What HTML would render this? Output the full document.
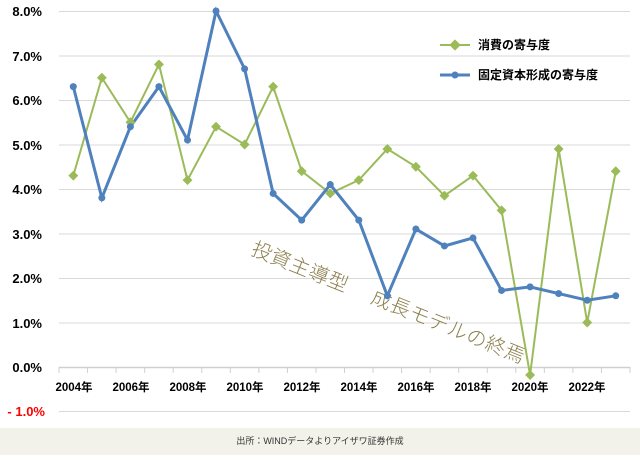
<!DOCTYPE html>
<html><head><meta charset="utf-8"><style>
body{margin:0;width:640px;height:455px;overflow:hidden;background:#fff;font-family:"Liberation Sans","Noto Sans CJK JP",sans-serif}
</style></head><body>
<svg width="640" height="455" xmlns="http://www.w3.org/2000/svg" font-family="Liberation Sans, Noto Sans CJK JP, sans-serif">
<rect x="0" y="428" width="640" height="27" fill="#f3f2ea"/>
<g stroke="#d9d9d9" stroke-width="1">
<line x1="59" x2="630" y1="11.5" y2="11.5"/><line x1="59" x2="630" y1="56" y2="56"/>
<line x1="59" x2="630" y1="100.5" y2="100.5"/><line x1="59" x2="630" y1="145" y2="145"/>
<line x1="59" x2="630" y1="189.5" y2="189.5"/><line x1="59" x2="630" y1="234" y2="234"/>
<line x1="59" x2="630" y1="278.5" y2="278.5"/><line x1="59" x2="630" y1="323" y2="323"/>
<line x1="59" x2="630" y1="411.5" y2="411.5"/>
</g>
<line x1="59" x2="630" y1="367.5" y2="367.5" stroke="#d0d0d0" stroke-width="1.5"/>
<g id="ticks" stroke="#d0d0d0"></g>
<g font-size="13" font-weight="bold" fill="#000" text-anchor="end">
<text x="42" y="16">8.0%</text><text x="42" y="61">7.0%</text><text x="42" y="105">6.0%</text>
<text x="42" y="150">5.0%</text><text x="42" y="194">4.0%</text><text x="42" y="239">3.0%</text>
<text x="42" y="283">2.0%</text><text x="42" y="328">1.0%</text><text x="42" y="372">0.0%</text>
<text x="45" y="416" fill="#ff0000">- 1.0%</text>
</g>
<g font-size="11.5" font-weight="bold" fill="#000" text-anchor="middle">
<text x="74" y="391">2004年</text><text x="131" y="391">2006年</text><text x="188" y="391">2008年</text>
<text x="245" y="391">2010年</text><text x="302" y="391">2012年</text><text x="359" y="391">2014年</text>
<text x="416" y="391">2016年</text><text x="473" y="391">2018年</text><text x="530" y="391">2020年</text>
<text x="587" y="391">2022年</text>
</g>
<text x="320" y="444" font-size="9" fill="#333" text-anchor="middle">出所：WINDデータよりアイザワ証券作成</text>
<text transform="translate(250,254) rotate(22)" font-size="20" font-weight="300" letter-spacing="0.5" fill="#8b7f4d">投資主導型　 成長モデルの終焉</text>
<polyline id="g" fill="none" stroke="#9bbb59" stroke-width="2"/>
<polyline id="b" fill="none" stroke="#4f81bd" stroke-width="3"/>
<g id="gm" fill="#9bbb59"></g><g id="bm" fill="#4f81bd"></g>
<line x1="440" x2="470" y1="45" y2="45" stroke="#9bbb59" stroke-width="2"/>
<rect x="451" y="41" width="8" height="8" fill="#9bbb59" transform="rotate(45 455 45)"/>
<text x="478" y="49" font-size="12" font-weight="bold">消費の寄与度</text>
<line x1="440" x2="470" y1="75" y2="75" stroke="#4f81bd" stroke-width="3"/>
<circle cx="455" cy="75" r="3.5" fill="#4f81bd"/>
<text x="478" y="79" font-size="12" font-weight="bold">固定資本形成の寄与度</text>
<script>
var G=[4.3,6.5,5.5,6.8,4.2,5.4,5.0,6.3,4.4,3.9,4.2,4.9,4.5,3.85,4.3,3.52,-0.18,4.9,1.0,4.4];
var B=[6.3,3.8,5.4,6.3,5.1,8.0,6.7,3.9,3.3,4.1,3.3,1.6,3.1,2.72,2.9,1.72,1.8,1.65,1.5,1.6];
function X(i){return 73.3+i*28.55}function Y(v){return 367-v*44.5}
var ns="http://www.w3.org/2000/svg",t=document.getElementById('ticks');
for(var k=0;k<=20;k++){var l=document.createElementNS(ns,'line');var x=59+k*28.55;l.setAttribute('x1',x);l.setAttribute('x2',x);l.setAttribute('y1',367);l.setAttribute('y2',373);t.appendChild(l);}
document.getElementById('g').setAttribute('points',G.map(function(v,i){return X(i)+','+Y(v)}).join(' '));
document.getElementById('b').setAttribute('points',B.map(function(v,i){return X(i)+','+Y(v)}).join(' '));
G.forEach(function(v,i){var r=document.createElementNS(ns,'rect');r.setAttribute('x',X(i)-3.5);r.setAttribute('y',Y(v)-3.5);r.setAttribute('width',7);r.setAttribute('height',7);r.setAttribute('transform','rotate(45 '+X(i)+' '+Y(v)+')');document.getElementById('gm').appendChild(r);});
B.forEach(function(v,i){var c=document.createElementNS(ns,'circle');c.setAttribute('cx',X(i));c.setAttribute('cy',Y(v));c.setAttribute('r',3.5);document.getElementById('bm').appendChild(c);});
</script>
</svg>
</body></html>
